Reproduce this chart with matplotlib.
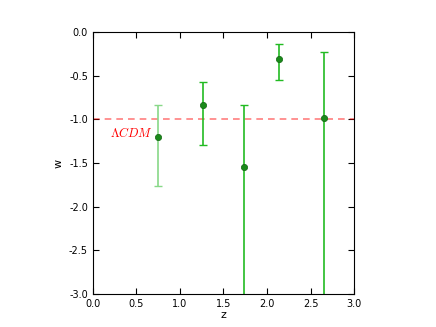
import matplotlib
matplotlib.use("Agg")
import matplotlib.pyplot as plt
import numpy as np

z = [0.75, 1.27, 1.74, 2.14, 2.66]
w = [-1.20, -0.84, -1.55, -0.31, -0.985]
w_err_upper = [0.37, 0.27, 0.72, 0.17, 0.76]
w_err_lower = [0.56, 0.45, 1.60, 0.24, 2.20]
bar_colors = ['#88d888', '#22bb22', '#22bb22', '#22bb22', '#22bb22']

plt.rcParams['font.size'] = 8
plt.rcParams['mathtext.fontset'] = 'cm'
fig = plt.figure(figsize=(4.36, 3.27), dpi=100)
ax = fig.add_axes([0.213, 0.101, 0.599, 0.801])

ax.axhline(-1.0, color='red', ls='--', lw=1.2, alpha=0.5, dashes=(4, 3))
for zi, wi, lo, up, c in zip(z, w, w_err_lower, w_err_upper, bar_colors):
    ax.errorbar([zi], [wi], yerr=[[lo], [up]], fmt='none', ecolor=c,
                elinewidth=1.2, capsize=3, capthick=1.0)
ax.plot(z, w, 'o', color='#1a8a1a', markersize=4.5, markeredgecolor='#116611', markeredgewidth=0.5)

ax.text(0.2, -1.16, r'$\Lambda CDM$', color='red', fontsize=9, va='center', ha='left')

ax.set_xlim(0, 3)
ax.set_ylim(-3, 0)
ax.set_xticks(np.arange(0, 3.01, 0.5))
ax.set_yticks(np.arange(-3, 0.01, 0.5))
ax.xaxis.set_major_formatter(matplotlib.ticker.FormatStrFormatter('%.1f'))
ax.yaxis.set_major_formatter(matplotlib.ticker.FormatStrFormatter('%.1f'))
ax.tick_params(direction='in', top=True, right=True, length=4, width=0.8, labelsize=7)
ax.set_xlabel('z', fontsize=8, labelpad=1)
ax.set_ylabel('w', fontsize=8, labelpad=4)

fig.savefig('out.png', dpi=100, facecolor='white')
